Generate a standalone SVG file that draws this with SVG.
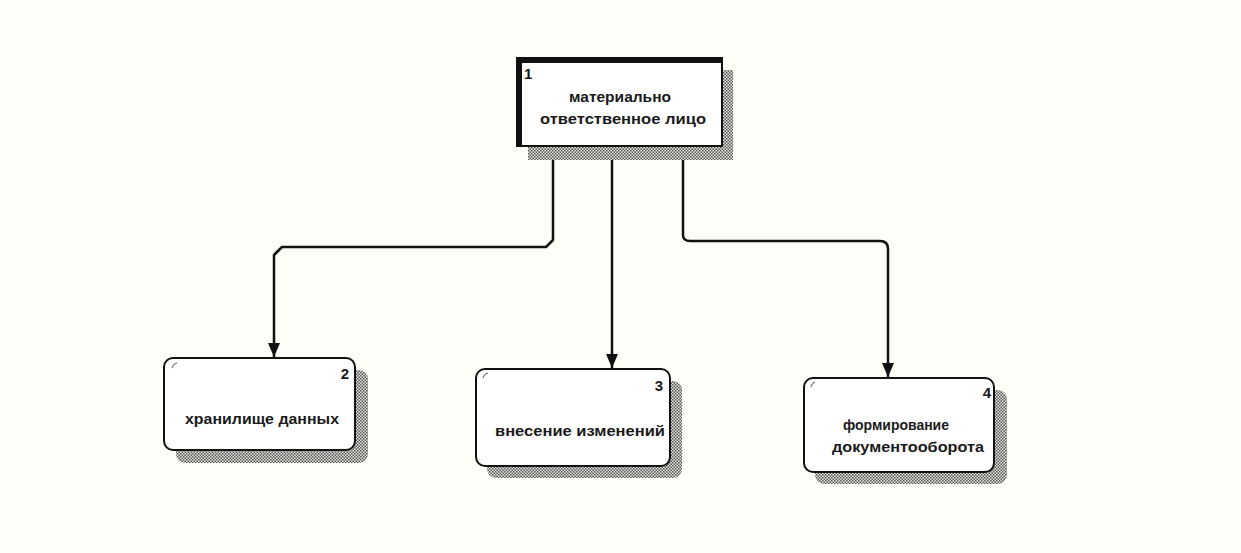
<svg xmlns="http://www.w3.org/2000/svg" width="1241" height="553" viewBox="0 0 1241 553">
  <defs>
    <style>
      .lbl { font-family: "Liberation Sans", Arial, sans-serif; font-weight: bold; font-size: 15px; fill: #1a1a1a; }
      .num { font-family: "Liberation Sans", Arial, sans-serif; font-weight: bold; font-size: 15px; fill: #1a1a1a; }
      .box { fill: #ffffff; stroke: #111; stroke-width: 2; }
      .shadow { fill: url(#dither); }
      .wire { fill: none; stroke: #111; stroke-width: 2.5; stroke-linejoin: round; }
      .tick { fill: none; stroke: #777; stroke-width: 1.2; }
    </style>
    <!-- halftone fill for drop shadows -->
    <pattern id="dither" width="3" height="3" patternUnits="userSpaceOnUse">
      <rect width="3" height="3" fill="#e6e6de"/>
      <rect x="0" y="0" width="1.5" height="1.5" fill="#555"/>
      <rect x="1.5" y="1.5" width="1.5" height="1.5" fill="#555"/>
    </pattern>
    <!-- arrowhead drawn along +x so it follows the path direction -->
    <marker id="arrow" viewBox="0 0 14 12" refX="14" refY="6" markerWidth="14" markerHeight="12" markerUnits="userSpaceOnUse" orient="auto">
      <path d="M0,0 L14,6 L0,12 Z" fill="#111"/>
    </marker>
  </defs>

  <rect width="1241" height="553" fill="#fefef8"/>

  <!-- connectors -->
  <g id="connectors">
    <path class="wire" d="M553,147 V240 L546,247 H282 L274,255 V357" marker-end="url(#arrow)"/>
    <path class="wire" d="M612,147 V368" marker-end="url(#arrow)"/>
    <path class="wire" d="M683,147 V235 Q683,241 690,241 H880 Q888,241 888,249 V377" marker-end="url(#arrow)"/>
  </g>

  <!-- external entity -->
  <g id="node1">
    <rect class="shadow" x="528" y="70" width="205" height="90"/>
    <rect class="box" x="517" y="58" width="205" height="88"/>
    <rect x="516" y="57" width="206" height="6" fill="#111"/>
    <rect x="516" y="57" width="6" height="90" fill="#111"/>
    <text class="num" x="524" y="79">1</text>
    <text class="lbl" x="620" y="102" text-anchor="middle" textLength="102" lengthAdjust="spacingAndGlyphs">материально</text>
    <text class="lbl" x="623" y="124" text-anchor="middle" textLength="166" lengthAdjust="spacingAndGlyphs">ответственное лицо</text>
  </g>

  <!-- processes -->
  <g id="node2">
    <rect class="shadow" x="176" y="370" width="192" height="93" rx="9"/>
    <rect class="box" x="164" y="358" width="191" height="92" rx="9"/>
    <path class="tick" d="M172,368 Q173,364 177,363"/>
    <text class="num" x="349" y="379" text-anchor="end">2</text>
    <text class="lbl" x="262" y="424" text-anchor="middle" textLength="154" lengthAdjust="spacingAndGlyphs">хранилище данных</text>
  </g>

  <g id="node3">
    <rect class="shadow" x="487" y="381" width="195" height="97" rx="9"/>
    <rect class="box" x="476" y="369" width="194" height="97" rx="9"/>
    <path class="tick" d="M483,378 Q484,374 488,373"/>
    <text class="num" x="663" y="391" text-anchor="end">3</text>
    <text class="lbl" x="580" y="436" text-anchor="middle" textLength="170" lengthAdjust="spacingAndGlyphs">внесение изменений</text>
  </g>

  <g id="node4">
    <rect class="shadow" x="815" y="390" width="192" height="94" rx="9"/>
    <rect class="box" x="804" y="378" width="190" height="94" rx="9"/>
    <path class="tick" d="M811,387 Q812,383 815,382"/>
    <text class="num" x="991" y="398" text-anchor="end">4</text>
    <text class="lbl" x="896" y="430" text-anchor="middle" textLength="106" lengthAdjust="spacingAndGlyphs">формирование</text>
    <text class="lbl" x="908" y="452" text-anchor="middle" textLength="152" lengthAdjust="spacingAndGlyphs">документооборота</text>
  </g>
</svg>
